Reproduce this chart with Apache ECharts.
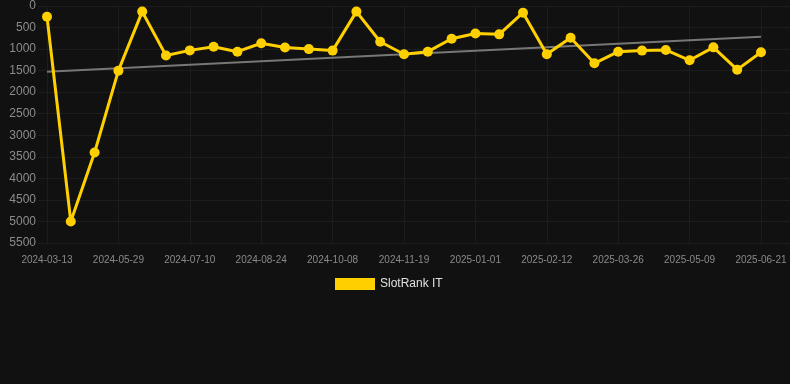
<!DOCTYPE html>
<html>
<head>
<meta charset="utf-8">
<script src="https://cdn.jsdelivr.net/npm/echarts@6/dist/echarts.min.js"></script>
<style>
html,body{margin:0;padding:0;background:#111111;}
#c{width:790px;height:384px;}
</style>
</head>
<body>
<div id="c"></div>
<script>
const dates = [
  '2024-03-13','2024-04-15','2024-05-10','2024-05-29','2024-06-12','2024-06-26',
  '2024-07-10','2024-07-25','2024-08-09','2024-08-24','2024-09-08','2024-09-23',
  '2024-10-08','2024-10-22','2024-11-05','2024-11-19','2024-12-03','2024-12-17',
  '2025-01-01','2025-01-15','2025-01-29','2025-02-12','2025-02-26','2025-03-12',
  '2025-03-26','2025-04-09','2025-04-24','2025-05-09','2025-05-23','2025-06-06',
  '2025-06-21'
];
const rankValues = [
  250, 5000, 3400, 1500, 130, 1150,
  1030, 945, 1060, 865, 965, 1000,
  1035, 130, 830, 1120, 1060, 760,
  638, 658, 155, 1120, 735, 1330,
  1060, 1035, 1020, 1260, 960, 1477,
  1075
];
const trendStart = [0, 1525];
const trendEnd = [30, 712];
const yMin = 0, yMax = 5500, yStep = 500;
const seriesName = 'SlotRank IT';

const chart = echarts.init(document.getElementById('c'), null, {renderer: 'canvas'});
const gridColor = '#1d1d1d';
chart.setOption({
  backgroundColor: '#111111',
  animation: false,
  grid: [
    {left: 47, right: 29, top: 6, bottom: 141},
    {left: 38, right: 0, top: 6, bottom: 141}
  ],
  legend: {
    data: [seriesName],
    top: 273,
    left: 330,
    itemWidth: 40,
    itemHeight: 12,
    itemGap: 8,
    icon: 'rect',
    textStyle: {color: '#e0e0e0', fontSize: 12, fontFamily: 'Arial, Liberation Sans, sans-serif'}
  },
  xAxis: [
    {
      type: 'category', gridIndex: 0, data: dates, boundaryGap: false,
      axisLine: {show: false}, axisTick: {show: false},
      axisLabel: {interval: 2, color: '#8a8a8a', fontSize: 10, margin: 12, fontFamily: 'Arial, Liberation Sans, sans-serif'},
      splitLine: {show: true, interval: 2, lineStyle: {color: gridColor, width: 1}}
    },
    {
      type: 'category', gridIndex: 1, data: dates, show: false
    }
  ],
  yAxis: [
    {
      type: 'value', gridIndex: 0, inverse: true, min: yMin, max: yMax, interval: yStep,
      axisLine: {show: false}, axisTick: {show: false},
      axisLabel: {color: '#8c8c8c', fontSize: 12, margin: 11, fontFamily: 'Arial, Liberation Sans, sans-serif',
        formatter: v => String(v)},
      splitLine: {show: false}
    },
    {
      type: 'value', gridIndex: 1, inverse: true, min: yMin, max: yMax, interval: yStep,
      axisLine: {show: false}, axisTick: {show: false}, axisLabel: {show: false},
      splitLine: {show: true, lineStyle: {color: gridColor, width: 1}}
    }
  ],
  series: [
    {
      name: 'trend', type: 'line', xAxisIndex: 0, yAxisIndex: 0,
      data: [trendStart, trendEnd], symbol: 'none', silent: true,
      lineStyle: {color: '#777777', width: 2}, z: 2
    },
    {
      name: seriesName, type: 'line', xAxisIndex: 0, yAxisIndex: 0,
      data: rankValues, symbol: 'circle', symbolSize: 10,
      itemStyle: {color: '#ffd000'},
      lineStyle: {color: '#ffd000', width: 3}, z: 3
    }
  ]
});
</script>
</body>
</html>
